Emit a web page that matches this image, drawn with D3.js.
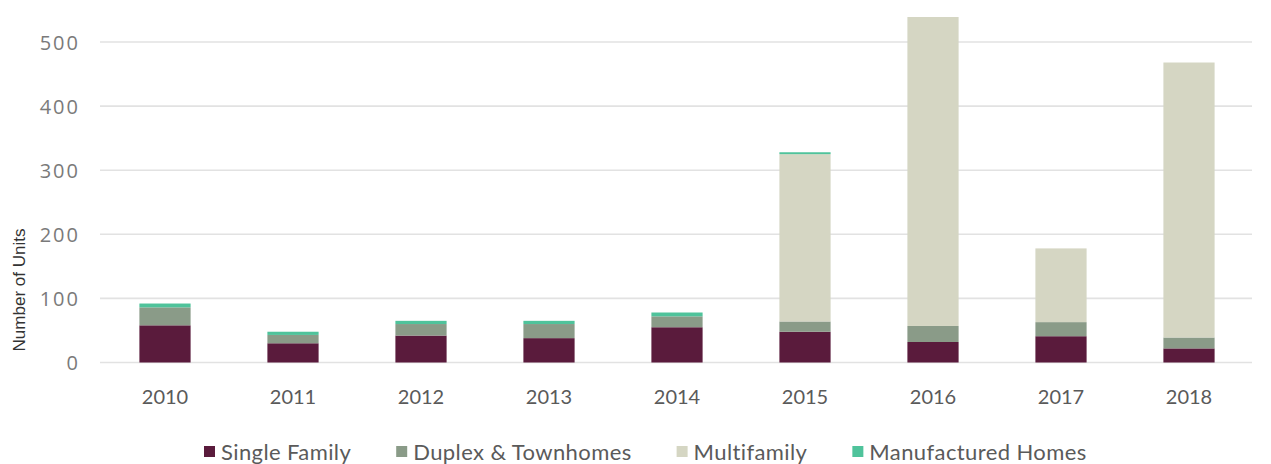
<!DOCTYPE html>
<html>
<head>
<meta charset="utf-8">
<script src="https://cdn.jsdelivr.net/npm/d3@7/dist/d3.min.js"></script>
<style>
  html, body { margin: 0; padding: 0; background: #fff; }
  svg { display: block; }
</style>
</head>
<body>
<svg id="chart" width="1271" height="464"></svg>
<script>
// Housing units added per year, by type
const years = ["2010", "2011", "2012", "2013", "2014", "2015", "2016", "2017", "2018"];
const singleFamily = [58, 30, 42, 38, 55, 48, 32, 41, 22];
const duplexTownhomes = [28, 13, 18, 22, 17, 16, 25, 22, 17];
const multifamily = [0, 0, 0, 0, 0, 261, 482, 115, 429];
const manufacturedHomes = [6, 5, 5, 5, 6, 3, 0, 0, 0];
const seriesNames = ["Single Family", "Duplex & Townhomes", "Multifamily", "Manufactured Homes"];
const yTicks = [0, 100, 200, 300, 400, 500];

const colors = ["#5a1b3c", "#8a9b88", "#d5d6c3", "#4fc39b"];

const svg = d3.select("#chart");

const rows = years.map((y, i) => ({
  year: y,
  "Single Family": singleFamily[i],
  "Duplex & Townhomes": duplexTownhomes[i],
  "Multifamily": multifamily[i],
  "Manufactured Homes": manufacturedHomes[i]
}));

const stacked = d3.stack().keys(seriesNames)(rows);

const x = d3.scaleBand()
  .domain(years)
  .range([101, 1253])
  .paddingInner(0.6)
  .paddingOuter(0.3);

const y = d3.scaleLinear()
  .domain([0, 500])
  .range([362.5, 42]);

// Horizontal gridlines
svg.append("g")
  .selectAll("line")
  .data(yTicks)
  .join("line")
  .attr("x1", 100)
  .attr("x2", 1252)
  .attr("y1", d => y(d))
  .attr("y2", d => y(d))
  .attr("stroke", "#e2e2e2")
  .attr("stroke-width", 1.6);

// Y axis labels
const yAxis = d3.axisLeft(y).tickValues(yTicks).tickSize(0).tickPadding(0);
const yg = svg.append("g").attr("transform", "translate(80,0)").call(yAxis);
yg.select(".domain").remove();
yg.selectAll("text")
  .attr("font-family", "'Open Sans', sans-serif")
  .attr("font-size", 20)
  .attr("letter-spacing", "2px")
  .attr("fill", "#7a7a7a")
  .attr("dy", "0.36em");

// Stacked bars
svg.append("g")
  .selectAll("g")
  .data(stacked)
  .join("g")
  .attr("fill", (d, i) => colors[i])
  .selectAll("rect")
  .data(d => d)
  .join("rect")
  .attr("x", d => x(d.data.year))
  .attr("width", x.bandwidth())
  .attr("y", d => y(d[1]))
  .attr("height", d => Math.max(0, y(d[0]) - y(d[1])));

// X axis labels
const xAxis = d3.axisBottom(x).tickSize(0).tickPadding(0);
const xg = svg.append("g").attr("transform", "translate(0,397)").call(xAxis);
xg.select(".domain").remove();
xg.selectAll("text")
  .attr("font-family", "Lato, sans-serif")
  .attr("font-size", 20)
  .attr("fill", "#5a5a5a")
  .attr("dy", "0.36em");

// Y axis title
svg.append("text")
  .attr("transform", "translate(25,290) rotate(-90)")
  .attr("text-anchor", "middle")
  .attr("font-family", "'Liberation Sans', Arial, sans-serif")
  .attr("font-size", 17)
  .attr("fill", "#333")
  .text("Number of Units");

// Legend
const legend = svg.append("g").attr("transform", "translate(0,452)");
let lx = 204;
seriesNames.forEach((name, i) => {
  const item = legend.append("g").attr("transform", `translate(${lx},0)`);
  item.append("rect")
    .attr("x", 0).attr("y", -6)
    .attr("width", 11).attr("height", 11)
    .attr("fill", colors[i]);
  const t = item.append("text")
    .attr("x", 17)
    .attr("dy", "0.36em")
    .attr("font-family", "Lato, sans-serif")
    .attr("font-size", 22)
    .attr("letter-spacing", "0.4px")
    .attr("fill", "#5a5a5a")
    .text(name);
  lx += 17 + t.node().getComputedTextLength() + 45;
});
</script>
</body>
</html>
